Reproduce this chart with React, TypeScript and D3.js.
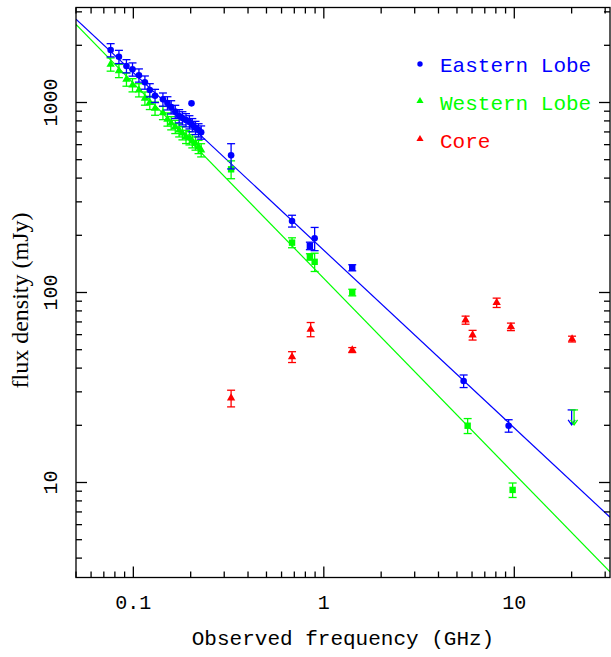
import React from "react";
import * as d3 from "d3";

const W = 611;
const H = 657;

// GLEAM-like low-frequency points (GHz)
const gleamFreq = [0.076, 0.084, 0.092, 0.099, 0.107, 0.115, 0.122, 0.130, 0.143, 0.151, 0.158, 0.166, 0.174, 0.181, 0.189, 0.197, 0.204, 0.212, 0.220, 0.227];
const eastGleam = [1889, 1742, 1556, 1496, 1391, 1277, 1163, 1086, 1039, 993, 946, 895, 849, 828, 809, 789, 762, 737, 716, 697];
const westGleam = [1589, 1469, 1324, 1236, 1163, 1052, 998, 931, 883, 816, 780, 746, 716, 691, 661, 650, 627, 610, 585, 562];
const gleamErrFrac = 0.08;

// Eastern lobe, other points
const eastFreq = [0.202, 0.326, 0.681, 0.845, 0.895, 1.41, 5.42, 9.34];
const eastFlux = [990, 527, 238, 176, 193, 135, 34.2, 19.9];
const eastErr = [0, 80, 17, 8, 27, 5, 2.6, 1.5];
const eastShape = ["circle", "circle", "circle", "square", "circle", "square", "circle", "circle"];

// Western lobe, other points
const westFreq = [0.326, 0.681, 0.845, 0.895, 1.41, 5.69, 9.8];
const westFlux = [445, 183, 154, 145, 100, 19.9, 9.14];
const westErr = [48, 11, 6, 16, 4, 1.8, 0.8];

// Core
const coreFreq = [0.326, 0.681, 0.853, 1.41, 5.55, 6.04, 8.08, 9.6, 20.1];
const coreFlux = [27.8, 45.8, 64, 49.8, 71.6, 59.7, 88.4, 66, 56.9];
const coreErr = [2.8, 3, 5.5, 1.5, 3.5, 3.5, 5, 3, 2];

// Upper limits
const limitFreq = [20.0, 20.6];
const limitFlux = [24.1, 24.1];
const limitSeries = ["east", "west"];

// Power-law fits: S = S1GHz * nu^alpha
const fitS1 = [166.8, 118.6];
const fitAlpha = [-0.935, -1.028];
const fitSeries = ["east", "west"];

const xMajor = [0.1, 1, 10];
const xMajorLabels = ["0.1", "1", "10"];
const yMajor = [10, 100, 1000];
const yMajorLabels = ["10", "100", "1000"];

const legendLabels = ["Eastern Lobe", "Western Lobe", "Core"];

const BLUE = "#0000ff";
const GREEN = "#00ff00";
const RED = "#ff0000";
const colorOf: Record<string, string> = { east: BLUE, west: GREEN, core: RED };

const L = 76, R = 610, T = 7.5, B = 577.5;

export default function App() {
  const x = d3.scaleLog().domain([0.05, 31.8]).range([L, R]);
  const y = d3.scaleLog().domain([Math.pow(10, 0.5), Math.pow(10, 3.5)]).range([B, T]);

  const xMinor: number[] = [];
  [0.01, 0.1, 1, 10].forEach((d) => {
    for (let k = 2; k <= 9; k++) {
      const v = d * k;
      if (v > 0.05 - 1e-9 && v <= 31.8) xMinor.push(v);
    }
  });
  const yMinor: number[] = [];
  [1, 10, 100, 1000].forEach((d) => {
    for (let k = 2; k <= 9; k++) {
      const v = d * k;
      if (v >= Math.pow(10, 0.5) && v <= Math.pow(10, 3.5)) yMinor.push(v);
    }
  });

  const tri = d3.symbol().type(d3.symbolTriangle).size(30)();
  const triLegend = d3.symbol().type(d3.symbolTriangle).size(22)();

  const errBar = (f: number, s: number, e: number, color: string, key: string) => {
    if (!e) return null;
    const cx = x(f);
    const y1 = y(s + e);
    const y2 = y(Math.max(s - e, 1e-3));
    const cw = 4;
    return (
      <g key={key} stroke={color} strokeWidth={1.3}>
        <line x1={cx} x2={cx} y1={y1} y2={y2} />
        <line x1={cx - cw} x2={cx + cw} y1={y1} y2={y1} />
        <line x1={cx - cw} x2={cx + cw} y1={y2} y2={y2} />
      </g>
    );
  };

  const fitLines = fitSeries.map((s, i) => {
    const line = d3
      .line<number>()
      .x((f) => x(f))
      .y((f) => y(fitS1[i] * Math.pow(f, fitAlpha[i])));
    return (
      <path key={s} d={line([0.05, 31.8]) || ""} stroke={colorOf[s]} strokeWidth={1.2} fill="none" />
    );
  });

  return (
    <svg
      width={W}
      height={H}
      style={{ position: "absolute", left: 0, top: 0, background: "#fff" }}
      fontFamily="'Liberation Mono', monospace"
    >
      <rect x={0} y={0} width={W} height={H} fill="#fff" />
      <defs>
        <clipPath id="plot">
          <rect x={L} y={T} width={R - L} height={B - T} />
        </clipPath>
      </defs>

      <g clipPath="url(#plot)">{fitLines}</g>

      {/* GLEAM points */}
      {gleamFreq.map((f, i) => (
        <g key={"wg" + i}>
          {errBar(f, westGleam[i], westGleam[i] * gleamErrFrac, GREEN, "wge" + i)}
          <path d={tri} transform={`translate(${x(f)},${y(westGleam[i])})`} fill={GREEN} />
        </g>
      ))}
      {gleamFreq.map((f, i) => (
        <g key={"eg" + i}>
          {errBar(f, eastGleam[i], eastGleam[i] * gleamErrFrac, BLUE, "ege" + i)}
          <circle cx={x(f)} cy={y(eastGleam[i])} r={3.3} fill={BLUE} />
        </g>
      ))}

      {/* Western others */}
      {westFreq.map((f, i) => (
        <g key={"w" + i}>
          {errBar(f, westFlux[i], westErr[i], GREEN, "we" + i)}
          <rect x={x(f) - 3.2} y={y(westFlux[i]) - 3.2} width={6.4} height={6.4} fill={GREEN} />
        </g>
      ))}

      {/* Eastern others */}
      {eastFreq.map((f, i) => (
        <g key={"e" + i}>
          {errBar(f, eastFlux[i], eastErr[i], BLUE, "ee" + i)}
          {eastShape[i] === "square" ? (
            <rect x={x(f) - 3.2} y={y(eastFlux[i]) - 3.2} width={6.4} height={6.4} fill={BLUE} />
          ) : (
            <circle cx={x(f)} cy={y(eastFlux[i])} r={3.3} fill={BLUE} />
          )}
        </g>
      ))}

      {/* Core */}
      {coreFreq.map((f, i) => (
        <g key={"c" + i}>
          {errBar(f, coreFlux[i], coreErr[i], RED, "ce" + i)}
          <path d={tri} transform={`translate(${x(f)},${y(coreFlux[i])})`} fill={RED} />
        </g>
      ))}

      {/* Upper limits */}
      {limitFreq.map((f, i) => {
        const cx = x(f);
        const cy = y(limitFlux[i]);
        const c = colorOf[limitSeries[i]];
        const len = 15;
        return (
          <g key={"lim" + i} stroke={c} strokeWidth={1.3} fill="none">
            <line x1={cx - 4} x2={cx + 4} y1={cy} y2={cy} />
            <line x1={cx} x2={cx} y1={cy} y2={cy + len} />
            <polyline points={`${cx - 3.5},${cy + len - 5} ${cx},${cy + len} ${cx + 3.5},${cy + len - 5}`} />
          </g>
        );
      })}

      {/* Frame */}
      <rect x={L} y={T} width={R - L} height={B - T} fill="none" stroke="#000" strokeWidth={1.3} />

      {/* Ticks */}
      <g stroke="#000" strokeWidth={1.3}>
        {xMajor.map((v) => (
          <g key={"xM" + v}>
            <line x1={x(v)} x2={x(v)} y1={B} y2={B - 11} />
            <line x1={x(v)} x2={x(v)} y1={T} y2={T + 11} />
          </g>
        ))}
        {xMinor.map((v) => (
          <g key={"xm" + v}>
            <line x1={x(v)} x2={x(v)} y1={B} y2={B - 6} />
            <line x1={x(v)} x2={x(v)} y1={T} y2={T + 6} />
          </g>
        ))}
        {yMajor.map((v) => (
          <g key={"yM" + v}>
            <line x1={L} x2={L + 11} y1={y(v)} y2={y(v)} />
            <line x1={R} x2={R - 11} y1={y(v)} y2={y(v)} />
          </g>
        ))}
        {yMinor.map((v) => (
          <g key={"ym" + v}>
            <line x1={L} x2={L + 6} y1={y(v)} y2={y(v)} />
            <line x1={R} x2={R - 6} y1={y(v)} y2={y(v)} />
          </g>
        ))}
      </g>

      {/* Tick labels */}
      {xMajor.map((v, i) => (
        <text key={"xl" + v} x={x(v)} y={609} textAnchor="middle" fontSize={20} fill="#000">
          {xMajorLabels[i]}
        </text>
      ))}
      {yMajor.map((v, i) => (
        <text
          key={"yl" + v}
          transform={`translate(57,${y(v)}) rotate(-90)`}
          textAnchor="middle"
          fontSize={20}
          fill="#000"
        >
          {yMajorLabels[i]}
        </text>
      ))}

      {/* Axis labels */}
      <text x={(L + R) / 2} y={645} textAnchor="middle" fontSize={21} fill="#000">
        Observed frequency (GHz)
      </text>
      <text
        transform={`translate(28,${(T + B) / 2 + 8}) rotate(-90)`}
        textAnchor="middle"
        fontSize={24}
        fontFamily="'Liberation Serif', 'DejaVu Serif', serif"
        fill="#000"
      >
        flux density (mJy)
      </text>

      {/* Legend */}
      <circle cx={420} cy={64} r={2.7} fill={BLUE} />
      <path d={triLegend} transform="translate(420,101)" fill={GREEN} />
      <path d={triLegend} transform="translate(420,139)" fill={RED} />
      {legendLabels.map((t, i) => (
        <text key={t} x={440} y={72 + i * 38} fontSize={21} fill={[BLUE, GREEN, RED][i]}>
          {t}
        </text>
      ))}
    </svg>
  );
}
